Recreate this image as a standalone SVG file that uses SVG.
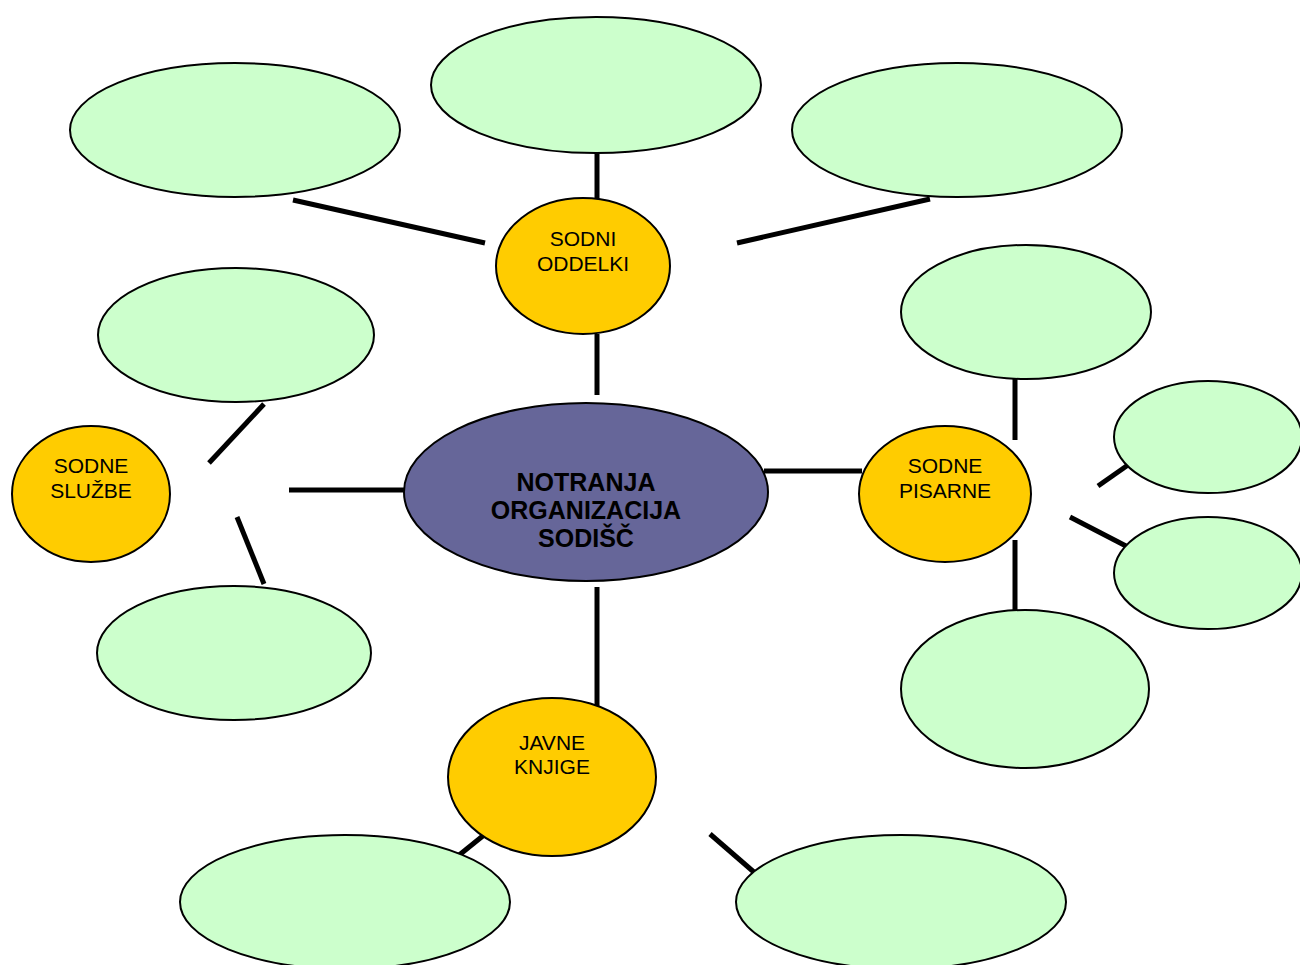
<svg xmlns="http://www.w3.org/2000/svg" width="1300" height="965" viewBox="0 0 1300 965">
<style>
.g{fill:#ccffcc;stroke:#000;stroke-width:2}
.y{fill:#ffcc00;stroke:#000;stroke-width:2}
.c{fill:#666699;stroke:#000;stroke-width:2}
.t{font-family:"Liberation Sans",Arial,sans-serif;font-size:21px;fill:#000;text-anchor:middle}
.b{font-family:"Liberation Sans",Arial,sans-serif;font-size:25px;font-weight:bold;fill:#000;text-anchor:middle}
#connectors line{stroke:#000;stroke-width:5}
</style>
<rect width="1300" height="965" fill="#fff"/>
<g id="connectors">
<line x1="597" y1="152" x2="597" y2="199"/>
<line x1="293" y1="200" x2="485" y2="243"/>
<line x1="737" y1="243" x2="930" y2="199"/>
<line x1="597" y1="334" x2="597" y2="395"/>
<line x1="764" y1="471" x2="862" y2="471"/>
<line x1="1015" y1="379" x2="1015" y2="440"/>
<line x1="1098" y1="486" x2="1128" y2="465"/>
<line x1="1070" y1="517" x2="1126" y2="546"/>
<line x1="1015" y1="540" x2="1015" y2="611"/>
<line x1="289" y1="490" x2="405" y2="490"/>
<line x1="209" y1="463" x2="264" y2="404"/>
<line x1="237" y1="517" x2="264" y2="584"/>
<line x1="597" y1="587" x2="597" y2="706"/>
<line x1="458" y1="856" x2="484" y2="835"/>
<line x1="710" y1="834" x2="755" y2="873"/>
</g>
<g id="n-tl"><ellipse class="g" cx="235" cy="130" rx="165" ry="67"/></g>
<g id="n-tc"><ellipse class="g" cx="596" cy="85" rx="165" ry="68"/></g>
<g id="n-tr"><ellipse class="g" cx="957" cy="130" rx="165" ry="67"/></g>
<g id="n-ru"><ellipse class="g" cx="1026" cy="312" rx="125" ry="67"/></g>
<g id="n-fru"><ellipse class="g" cx="1208" cy="437" rx="94" ry="56"/></g>
<g id="n-frl"><ellipse class="g" cx="1208" cy="573" rx="94" ry="56"/></g>
<g id="n-rl"><ellipse class="g" cx="1025" cy="689" rx="124" ry="79"/></g>
<g id="n-lu"><ellipse class="g" cx="236" cy="335" rx="138" ry="67"/></g>
<g id="n-ll"><ellipse class="g" cx="234" cy="653" rx="137" ry="67"/></g>
<g id="n-bl"><ellipse class="g" cx="345" cy="902" rx="165" ry="67"/></g>
<g id="n-br"><ellipse class="g" cx="901" cy="902" rx="165" ry="67"/></g>
<g id="sodni-oddelki"><ellipse class="y" cx="583" cy="266" rx="87" ry="68"/>
<text class="t" x="583" y="246">SODNI</text><text class="t" x="583" y="271">ODDELKI</text></g>
<g id="sodne-sluzbe"><ellipse class="y" cx="91" cy="494" rx="79" ry="68"/>
<text class="t" x="91" y="473">SODNE</text><text class="t" x="91" y="498">SLUŽBE</text></g>
<g id="sodne-pisarne"><ellipse class="y" cx="945" cy="494" rx="86" ry="68"/>
<text class="t" x="945" y="473">SODNE</text><text class="t" x="945" y="498">PISARNE</text></g>
<g id="javne-knjige"><ellipse class="y" cx="552" cy="777" rx="104" ry="79"/>
<text class="t" x="552" y="750">JAVNE</text><text class="t" x="552" y="774">KNJIGE</text></g>
<g id="center"><ellipse class="c" cx="586" cy="492" rx="182" ry="89"/>
<text class="b" x="586" y="491">NOTRANJA</text><text class="b" x="586" y="519">ORGANIZACIJA</text><text class="b" x="586" y="547">SODIŠČ</text></g>
</svg>
